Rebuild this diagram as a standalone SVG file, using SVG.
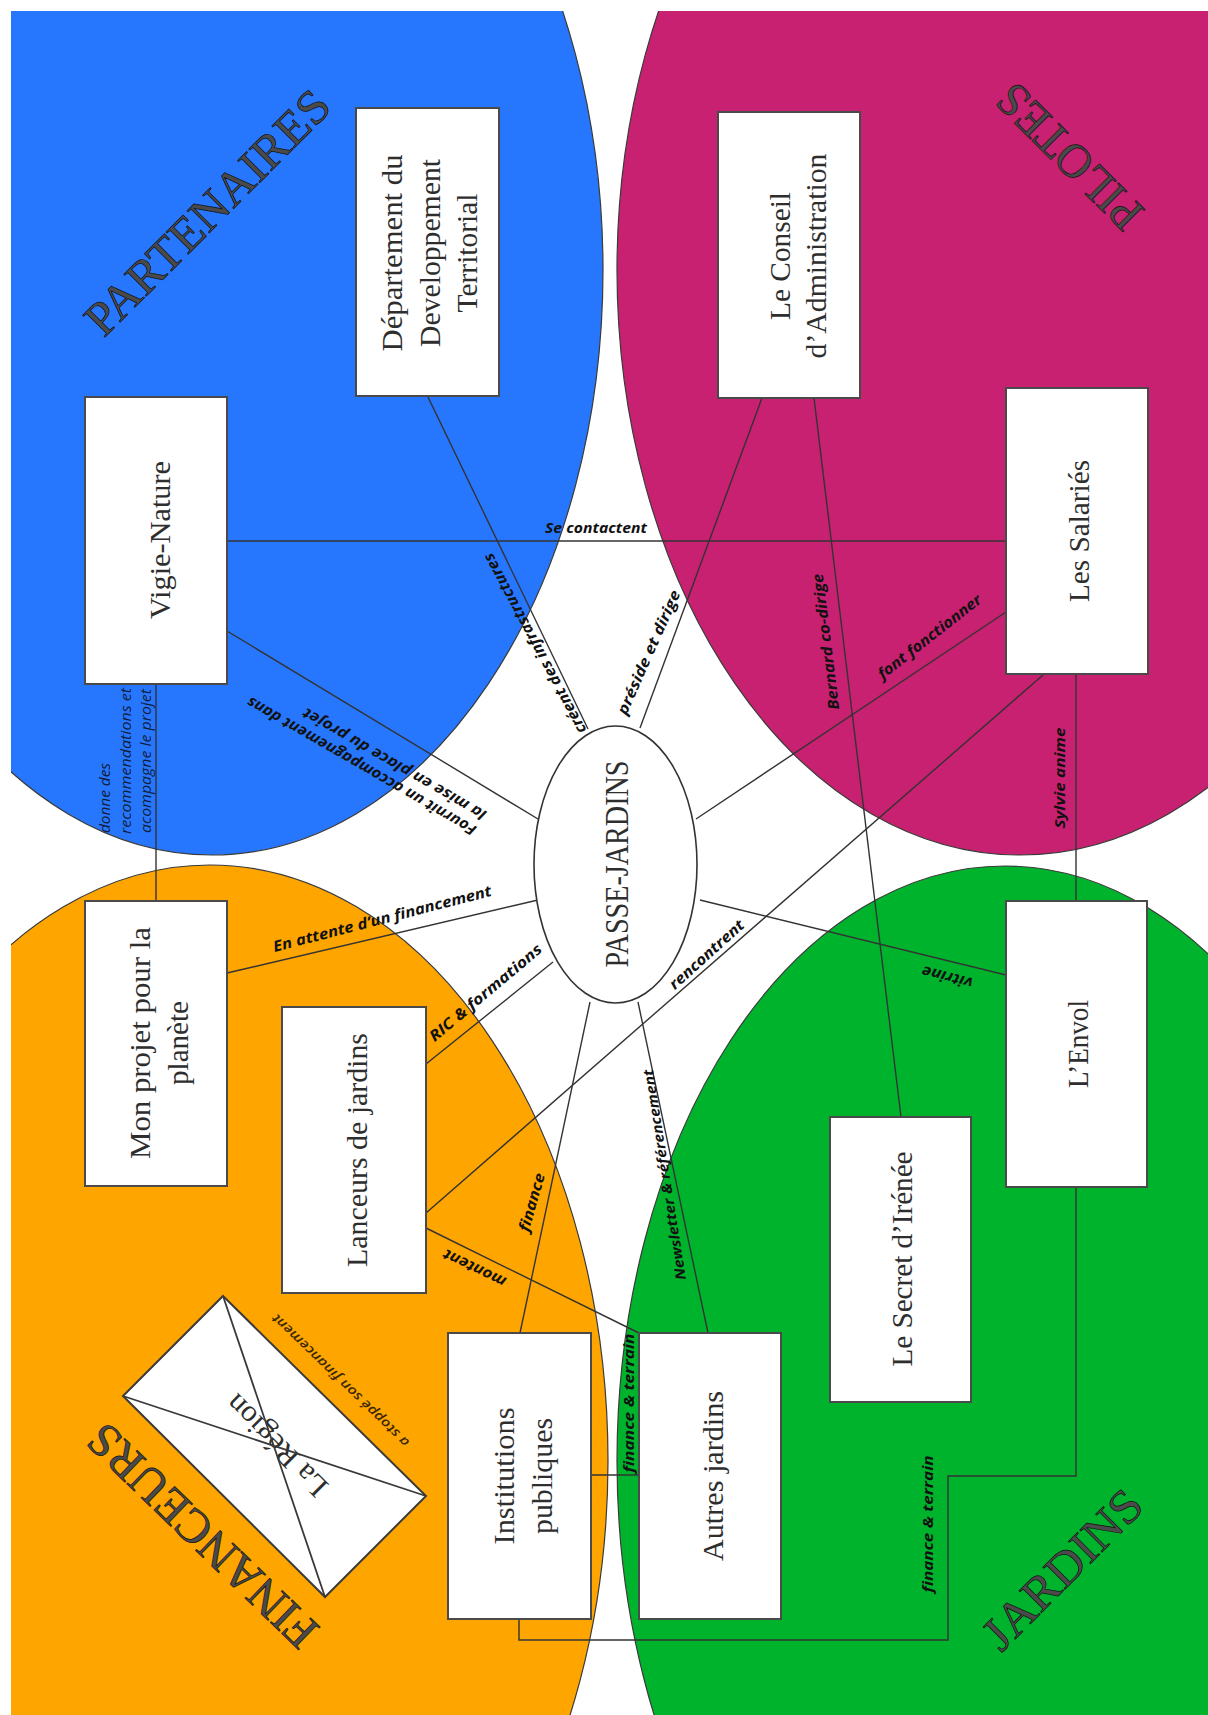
<svg xmlns="http://www.w3.org/2000/svg" width="1208" height="1715" viewBox="0 0 1208 1715">
<defs>
<clipPath id="clip"><rect x="11" y="11" width="1197" height="1704"/></clipPath>
<style>
.zone{stroke:#3a3a3a;stroke-width:1.2}
.conn{stroke:#333;stroke-width:1.4;fill:none}
.box{fill:#fff;stroke:#4a4a4a;stroke-width:2}
.nt{font-family:"Liberation Serif",serif;font-size:30px;fill:#2e2e2e;text-anchor:middle;dominant-baseline:central}
.lbl{font-family:"Open Sans","Liberation Sans",sans-serif;font-style:italic;font-weight:bold;font-size:15px;fill:#111;text-anchor:middle;dominant-baseline:central}
.note{font-family:"Open Sans","Liberation Sans",sans-serif;font-style:italic;font-size:14px;fill:#121c3a;dominant-baseline:central}
.title{font-family:"Liberation Serif",serif;font-size:48px;fill:#4a4a4a;stroke:#111;stroke-width:0.7;text-anchor:middle;dominant-baseline:central}
</style>
</defs>
<rect x="0" y="0" width="1208" height="1715" fill="#fff"/>
<g id="zones" clip-path="url(#clip)">
<ellipse class="zone" cx="212" cy="270" rx="391" ry="585" fill="#2677fe"/>
<ellipse class="zone" cx="1020" cy="270" rx="403" ry="585" fill="#c82171"/>
<ellipse class="zone" cx="210" cy="1461" rx="398" ry="596" fill="#ffa500"/>
<ellipse class="zone" cx="1005" cy="1461" rx="388" ry="595" fill="#00b32c"/>
</g>
<g id="titles">
<text class="title" transform="translate(207,212) rotate(-45)" textLength="325" lengthAdjust="spacingAndGlyphs">PARTENAIRES</text>
<text class="title" transform="translate(1069,157) rotate(225)" textLength="185" lengthAdjust="spacingAndGlyphs">PILOTES</text>
<text class="title" transform="translate(1062,1569) rotate(-45)" textLength="205" lengthAdjust="spacingAndGlyphs">JARDINS</text>
<text class="title" transform="translate(202,1536) rotate(224)" textLength="300" lengthAdjust="spacingAndGlyphs">FINANCEURS</text>
</g>
<g id="connectors">
<path class="conn" d="M227,541 H1006"/>
<path class="conn" d="M227,631 L538,819"/>
<path class="conn" d="M428,397 L588,729"/>
<path class="conn" d="M762,398 L640,728"/>
<path class="conn" d="M814,398 L901,1117"/>
<path class="conn" d="M1006,612 L696,819"/>
<path class="conn" d="M1043,675 L426,1213"/>
<path class="conn" d="M1076,675 V901"/>
<path class="conn" d="M700,900 L1006,975"/>
<path class="conn" d="M227,973 L538,900"/>
<path class="conn" d="M156,684 V901"/>
<path class="conn" d="M426,1064 L553,962"/>
<path class="conn" d="M426,1228 L639,1333"/>
<path class="conn" d="M520,1333 L590,1002"/>
<path class="conn" d="M708,1333 L638,1002"/>
<path class="conn" d="M591,1475 H639"/>
<path class="conn" d="M519,1619 V1640 H948 V1476 H1076 V1187"/>
</g>
<g id="passe-jardins">
<ellipse cx="615.5" cy="864.5" rx="81.5" ry="138.5" fill="#fff" stroke="#333" stroke-width="1.6"/>
<text class="nt" transform="translate(616,864) rotate(-90)" style="font-size:34px" textLength="207" lengthAdjust="spacingAndGlyphs">PASSE-JARDINS</text>
</g>
<g id="vigie-nature">
<rect class="box" x="85" y="397" width="142" height="287"/>
<text class="nt" transform="translate(159,540) rotate(-90)" textLength="158" lengthAdjust="spacingAndGlyphs">Vigie-Nature</text>
</g>
<g id="departement">
<rect class="box" x="356" y="108" width="143" height="288"/>
<text class="nt" transform="translate(391,253) rotate(-90)" textLength="197" lengthAdjust="spacingAndGlyphs">Département du</text>
<text class="nt" transform="translate(429,253) rotate(-90)" textLength="188" lengthAdjust="spacingAndGlyphs">Developpement</text>
<text class="nt" transform="translate(466,253) rotate(-90)" textLength="119" lengthAdjust="spacingAndGlyphs">Territorial</text>
</g>
<g id="conseil">
<rect class="box" x="718" y="112" width="142" height="286"/>
<text class="nt" transform="translate(779,256) rotate(-90)" textLength="128" lengthAdjust="spacingAndGlyphs">Le Conseil</text>
<text class="nt" transform="translate(815,256) rotate(-90)" textLength="205" lengthAdjust="spacingAndGlyphs">d’Administration</text>
</g>
<g id="salaries">
<rect class="box" x="1006" y="388" width="142" height="286"/>
<text class="nt" transform="translate(1078,531) rotate(-90)" textLength="142" lengthAdjust="spacingAndGlyphs">Les Salariés</text>
</g>
<g id="mon-projet">
<rect class="box" x="85" y="901" width="142" height="285"/>
<text class="nt" transform="translate(139,1043) rotate(-90)" textLength="232" lengthAdjust="spacingAndGlyphs">Mon projet pour la</text>
<text class="nt" transform="translate(177,1043) rotate(-90)" textLength="84" lengthAdjust="spacingAndGlyphs">planète</text>
</g>
<g id="lanceurs">
<rect class="box" x="282" y="1007" width="144" height="286"/>
<text class="nt" transform="translate(356,1150) rotate(-90)" textLength="234" lengthAdjust="spacingAndGlyphs">Lanceurs de jardins</text>
</g>
<g id="la-region">
<polygon points="223,1296 426,1496 325,1597 123,1396" fill="#fff" stroke="#3a3a3a" stroke-width="2"/>
<text class="nt" transform="translate(276,1446) rotate(225)" textLength="131" lengthAdjust="spacingAndGlyphs">La Région</text>
<path d="M223,1296 L325,1597 M123,1396 L426,1496" stroke="#3a3a3a" stroke-width="1.8" fill="none"/>
</g>
<g id="institutions">
<rect class="box" x="448" y="1333" width="143" height="286"/>
<text class="nt" transform="translate(503,1476) rotate(-90)" textLength="137" lengthAdjust="spacingAndGlyphs">Institutions</text>
<text class="nt" transform="translate(541,1476) rotate(-90)" textLength="116" lengthAdjust="spacingAndGlyphs">publiques</text>
</g>
<g id="autres-jardins">
<rect class="box" x="639" y="1333" width="142" height="286"/>
<text class="nt" transform="translate(712,1476) rotate(-90)" textLength="170" lengthAdjust="spacingAndGlyphs">Autres jardins</text>
</g>
<g id="secret-irenee">
<rect class="box" x="830" y="1117" width="141" height="285"/>
<text class="nt" transform="translate(901,1259) rotate(-90)" textLength="215" lengthAdjust="spacingAndGlyphs">Le Secret d’Irénée</text>
</g>
<g id="envol">
<rect class="box" x="1006" y="901" width="141" height="286"/>
<text class="nt" transform="translate(1077,1044) rotate(-90)" textLength="88" lengthAdjust="spacingAndGlyphs">L’Envol</text>
</g>
<g id="labels">
<text class="lbl" transform="translate(596,527)" textLength="102" lengthAdjust="spacingAndGlyphs">Se contactent</text>
<text class="lbl" transform="translate(361,767) rotate(210)" textLength="262" lengthAdjust="spacingAndGlyphs">Fournit un accompagnement dans</text>
<text class="lbl" transform="translate(394,765) rotate(210)" textLength="209" lengthAdjust="spacingAndGlyphs">la mise en place du projet</text>
<text class="lbl" transform="translate(534,644) rotate(242)" textLength="202" lengthAdjust="spacingAndGlyphs">créent des infrastructures</text>
<text class="lbl" transform="translate(648,652) rotate(-66)" textLength="134" lengthAdjust="spacingAndGlyphs">préside et dirige</text>
<text class="lbl" transform="translate(825,642) rotate(-97)" textLength="137" lengthAdjust="spacingAndGlyphs">Bernard co-dirige</text>
<text class="lbl" transform="translate(929,636) rotate(-38)" textLength="127" lengthAdjust="spacingAndGlyphs">font fonctionner</text>
<text class="lbl" transform="translate(706,954) rotate(-42)" textLength="95" lengthAdjust="spacingAndGlyphs">rencontrent</text>
<text class="lbl" transform="translate(1059,778) rotate(-90)" textLength="101" lengthAdjust="spacingAndGlyphs">Sylvie anime</text>
<text class="lbl" transform="translate(947,978) rotate(194)" textLength="52" lengthAdjust="spacingAndGlyphs">vitrine</text>
<text class="lbl" transform="translate(382,918) rotate(-14.5)" textLength="225" lengthAdjust="spacingAndGlyphs">En attente d’un financement</text>
<text class="note" transform="translate(104,833) rotate(-90)" textLength="70" lengthAdjust="spacingAndGlyphs">donne des</text>
<text class="note" transform="translate(125,834) rotate(-90)" textLength="146" lengthAdjust="spacingAndGlyphs">recommendations et</text>
<text class="note" transform="translate(145,833) rotate(-90)" textLength="144" lengthAdjust="spacingAndGlyphs">acompagne le projet</text>
<text class="lbl" transform="translate(485,992) rotate(-40)" textLength="142" lengthAdjust="spacingAndGlyphs">RIC &amp; formations</text>
<text class="lbl" transform="translate(474,1269) rotate(206)" textLength="68" lengthAdjust="spacingAndGlyphs">montent</text>
<text class="lbl" transform="translate(531,1202) rotate(-74)" textLength="60" lengthAdjust="spacingAndGlyphs">finance</text>
<text class="lbl" transform="translate(664,1175) rotate(-99)" textLength="213" lengthAdjust="spacingAndGlyphs" style="font-size:14px">Newsletter &amp; référencement</text>
<text class="lbl" transform="translate(628,1403) rotate(-90)" textLength="139" lengthAdjust="spacingAndGlyphs" style="font-size:14px">finance &amp; terrain</text>
<text class="lbl" transform="translate(927,1524) rotate(-90)" textLength="137" lengthAdjust="spacingAndGlyphs" style="font-size:14px">finance &amp; terrain</text>
<text class="lbl" transform="translate(340,1381) rotate(224)" textLength="185" lengthAdjust="spacingAndGlyphs" style="font-size:13px;font-weight:600;fill:#3a2800">a stoppé son financement</text>
</g>
</svg>
